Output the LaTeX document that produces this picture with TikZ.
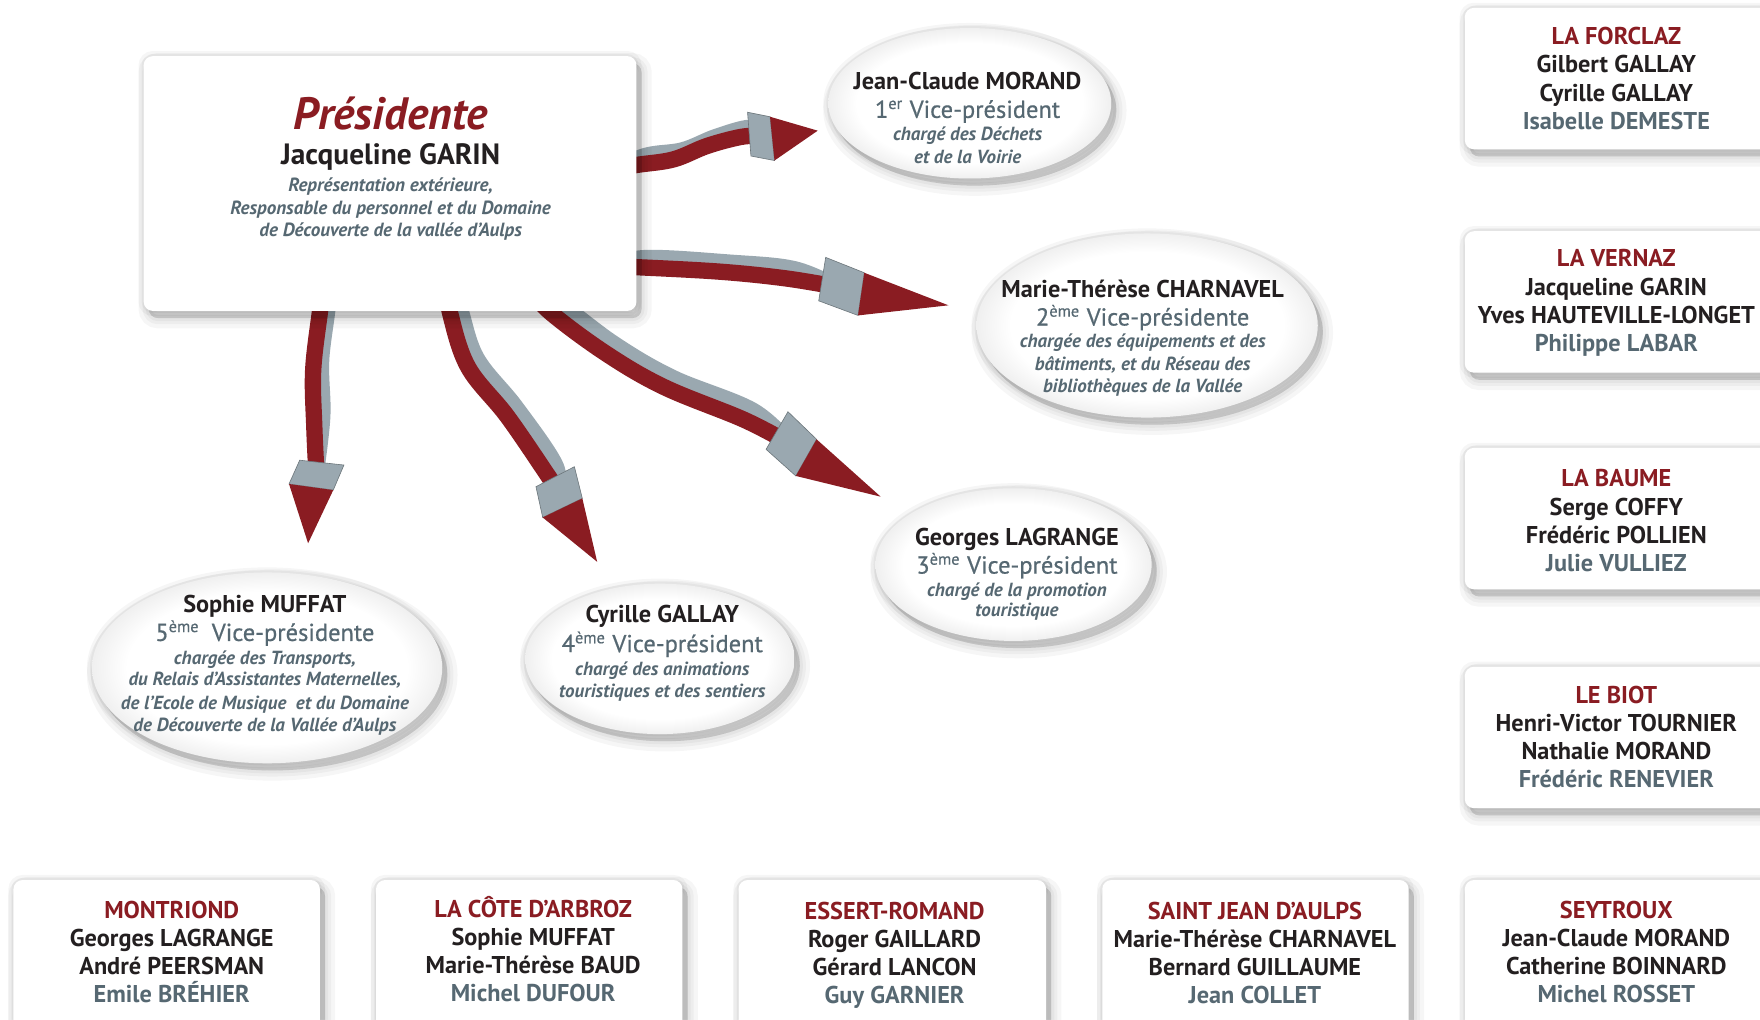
\documentclass[tikz,border=0pt]{standalone}
\usepackage{fontspec}
\setmainfont{PT Sans}
\newfontfamily\ptsemi[FakeBold=0.6]{PT Sans}
\usetikzlibrary{shapes.geometric,shadows}
\definecolor{redC}{HTML}{8A1C22}
\definecolor{ribgrey}{HTML}{9AA8B0}
\definecolor{nameC}{HTML}{231F20}
\definecolor{greyC}{HTML}{566872}
\pgfdeclareradialshading{ovalshade}{\pgfpoint{0bp}{0bp}}{color(0bp)=(white); color(20bp)=(white); color(25bp)=(black!6); color(50bp)=(black!6)}
\tikzset{
  softshadow/.style={general shadow={fill=black, draw=black, line width=#1, opacity=0.035, shadow xshift=2.5pt, shadow yshift=-3.5pt}},
  halo/.style={general shadow={draw=black, fill=none, line width=#1, opacity=0.035}},
  card/.style={fill=white, draw=none, rounded corners=4.5pt, inner sep=0pt,
    softshadow=0.1pt, softshadow=3pt, softshadow=6pt, softshadow=10pt, halo=2pt, halo=5pt},
  oval/.style={ellipse, shading=ovalshade, draw=none, inner sep=0pt,
    softshadow=0.1pt, softshadow=3pt, softshadow=6pt, softshadow=10pt, halo=2pt, halo=5pt},
  nm/.style={font=\bfseries\fontsize{11.9}{13}\selectfont, text=nameC, anchor=base, inner sep=0pt},
  ttl/.style={nm, text=redC},
  sub/.style={nm, text=greyC},
  vp/.style={font=\ptsemi\fontsize{12}{14}\selectfont, text=greyC, anchor=base, inner sep=0pt},
  dsc/.style={font=\bfseries\itshape\fontsize{9.3}{11}\selectfont, text=greyC, anchor=base, inner sep=0pt},
  ribR/.style={draw=redC, line width=8pt},
  ribG/.style={draw=ribgrey, line width=7pt, shift={(8,-9)}},
  collar/.style={fill=ribgrey, draw=ribgrey!70!black, line width=0.3pt},
  head/.style={fill=redC, draw=none}
}
\begin{document}
\begin{tikzpicture}[x=0.55pt, y=-0.55pt]
\useasboundingbox (0,0) rectangle (1568,908);
\fill[white] (0,0) rectangle (1568,908);
\clip (0,0) rectangle (1568,908);

% ---------- arrows (ribbons) ----------
% arrow 1 -> Jean-Claude MORAND
\coordinate (a1s) at (540,152); \coordinate (a1e) at (678,121);
\draw[ribG] plot[smooth, tension=0.6] coordinates {(a1s) (567,147) (600,142) (630,130) (660,122) (a1e)};
\draw[ribR] plot[smooth, tension=0.6] coordinates {(a1s) (567,147) (600,142) (630,130) (660,122) (a1e)};
\filldraw[collar] (666,100) -- (686,104) -- (690,143) -- (669,139) -- cycle;
\fill[head] (686,104) -- (728.5,116.4) -- (690,143) -- cycle;

% arrow 2 -> Marie-Therese CHARNAVEL
\coordinate (a2s) at (540,237); \coordinate (a2e) at (748,256);
\draw[ribG] plot[smooth, tension=0.6] coordinates {(a2s) (567,238) (641,242) (700,248) (a2e)};
\draw[ribR] plot[smooth, tension=0.6] coordinates {(a2s) (567,238) (641,242) (700,248) (a2e)};
\filldraw[collar] (735.6,229.3) -- (770,243) -- (764.4,281) -- (729.4,268) -- cycle;
\fill[head] (770,243) -- (845,272) -- (764.4,281) -- cycle;

% arrow 3 -> Georges LAGRANGE
\coordinate (a3s) at (470,255); \coordinate (a3e) at (705,396);
\draw[ribG] plot[smooth, tension=0.6] coordinates {(a3s) (490,278) (540,315) (592,345) (663,374) (a3e)};
\draw[ribR] plot[smooth, tension=0.6] coordinates {(a3s) (490,278) (540,315) (592,345) (663,374) (a3e)};
\filldraw[collar] (702,366.8) -- (727.5,391.4) -- (709,424) -- (682.5,400.3) -- cycle;
\fill[head] (727.5,391.4) -- (784.6,442.5) -- (709,424) -- cycle;

% arrow 4 -> Cyrille GALLAY
\coordinate (a4s) at (398,255); \coordinate (a4e) at (498,439);
\draw[ribG] plot[smooth, tension=0.6] coordinates {(a4s) (401,279) (417,327) (452,371) (487,422) (a4e)};
\draw[ribR] plot[smooth, tension=0.6] coordinates {(a4s) (401,279) (417,327) (452,371) (487,422) (a4e)};
\filldraw[collar] (477.5,433.6) -- (511.7,415.8) -- (518.8,444) -- (483.5,461) -- cycle;
\fill[head] (483.5,461) -- (532,500.5) -- (518.8,444) -- cycle;

% arrow 5 -> Sophie MUFFAT
\coordinate (a5s) at (288,255); \coordinate (a5e) at (282,423);
\draw[ribG] plot[smooth, tension=0.6] coordinates {(a5s) (285,278) (279,330) (280,380) (a5e)};
\draw[ribR] plot[smooth, tension=0.6] coordinates {(a5s) (285,278) (279,330) (280,380) (a5e)};
\filldraw[collar] (267,410) -- (306.4,414.3) -- (296.9,436.6) -- (257.5,431.2) -- cycle;
\fill[head] (257.5,431.2) -- (274.5,484) -- (296.9,436.6) -- cycle;

% ---------- Presidente box ----------
\node[card, minimum width=241.45pt, minimum height=124.85pt] (pres) at (347.5,163.5) {};
\node[font=\bfseries\itshape\fontsize{22.2}{24}\selectfont, text=redC, anchor=base, inner sep=0pt] (presT) at (348,115) {Présidente};
\node[nm, font=\bfseries\fontsize{14.4}{16}\selectfont] (presN) at (348,146.5) {Jacqueline GARIN};
\node[dsc, font=\bfseries\itshape\fontsize{9.35}{11}\selectfont] (presD1) at (348,171) {Représentation extérieure,};
\node[dsc, font=\bfseries\itshape\fontsize{9.35}{11}\selectfont] (presD2) at (348,191) {Responsable du personnel et du Domaine};
\node[dsc, font=\bfseries\itshape\fontsize{9.35}{11}\selectfont] (presD3) at (348,211) {de Découverte de la vallée d’Aulps};

% ---------- ellipses ----------
\node[oval, minimum width=138.6pt, minimum height=73.7pt] (e1) at (864,92) {};
\node[nm] (e1a) at (862,80) {Jean-Claude MORAND};
\node[vp] (e1b) at (862,105) {1\textsuperscript{er} Vice-président};
\node[dsc] (e1c) at (862,125) {chargé des Déchets};
\node[dsc] (e1d) at (862,146) {et de la Voirie};

\node[oval, minimum width=167.2pt, minimum height=90.2pt] (e2) at (1022,290) {};
\node[nm] (e2a) at (1018,265) {Marie-Thérèse CHARNAVEL};
\node[vp] (e2b) at (1018,290) {2\textsuperscript{ème} Vice-présidente};
\node[dsc] (e2c) at (1018,310) {chargée des équipements et des};
\node[dsc] (e2d) at (1018,330) {bâtiments, et du Réseau des};
\node[dsc] (e2e) at (1018,350) {bibliothèques de la Vallée};

\node[oval, minimum width=135.3pt, minimum height=74.8pt] (e3) at (903,503) {};
\node[nm] (e3a) at (906,486) {Georges LAGRANGE};
\node[vp] (e3b) at (906,511) {3\textsuperscript{ème} Vice-président};
\node[dsc] (e3c) at (906,531) {chargé de la promotion};
\node[dsc] (e3d) at (906,549) {touristique};

\node[oval, minimum width=132pt, minimum height=73.7pt] (e4) at (588,587) {};
\node[nm] (e4a) at (590,555) {Cyrille GALLAY};
\node[vp] (e4b) at (590,581) {4\textsuperscript{ème} Vice-président};
\node[dsc] (e4c) at (590,602) {chargé des animations};
\node[dsc] (e4d) at (590,621) {touristiques et des sentiers};

\node[oval, minimum width=171.6pt, minimum height=93.5pt] (e5) at (238,595) {};
\node[nm] (e5a) at (236,546) {Sophie MUFFAT};
\node[vp] (e5b) at (236,571) {5\textsuperscript{ème}\hspace{0.5em}Vice-présidente};
\node[dsc] (e5c) at (236,592) {chargée des Transports,};
\node[dsc] (e5d) at (236,611) {du Relais d’Assistantes Maternelles,};
\node[dsc] (e5e) at (236,632) {de l’Ecole de Musique\hspace{0.5em}et du Domaine};
\node[dsc] (e5f) at (236,652) {de Découverte de la Vallée d’Aulps};

% ---------- right column ----------
\node[card, minimum width=162.25pt, minimum height=69.3pt] (forclaz) at (1452.5,70) {};
\node[ttl] (forclaz1) at (1440,40) {LA FORCLAZ};
\node[nm] (forclaz2) at (1440,65) {Gilbert GALLAY};
\node[nm] (forclaz3) at (1440,90) {Cyrille GALLAY};
\node[sub] (forclaz4) at (1440,115) {Isabelle DEMESTE};

\node[card, minimum width=162.25pt, minimum height=69.3pt] (vernaz) at (1452.5,269) {};
\node[ttl] (vernaz1) at (1440,237) {LA VERNAZ};
\node[nm] (vernaz2) at (1440,263) {Jacqueline GARIN};
\node[nm] (vernaz3) at (1440,288) {Yves HAUTEVILLE-LONGET};
\node[sub] (vernaz4) at (1440,313) {Philippe LABAR};

\node[card, minimum width=162.25pt, minimum height=69.3pt] (baume) at (1452.5,462) {};
\node[ttl] (baume1) at (1440,433) {LA BAUME};
\node[nm] (baume2) at (1440,459) {Serge COFFY};
\node[nm] (baume3) at (1440,484) {Frédéric POLLIEN};
\node[sub] (baume4) at (1440,509) {Julie VULLIEZ};

\node[card, minimum width=162.25pt, minimum height=69.3pt] (biot) at (1452.5,657) {};
\node[ttl] (biot1) at (1440,627) {LE BIOT};
\node[nm] (biot2) at (1440,652) {Henri-Victor TOURNIER};
\node[nm] (biot3) at (1440,677) {Nathalie MORAND};
\node[sub] (biot4) at (1440,702) {Frédéric RENEVIER};

% ---------- bottom row ----------
\node[card, minimum width=150.15pt, minimum height=80.3pt] (montriond) at (148.5,857) {};
\node[ttl] (montriond1) at (153,818) {MONTRIOND};
\node[nm] (montriond2) at (153,843) {Georges LAGRANGE};
\node[nm] (montriond3) at (153,868) {André PEERSMAN};
\node[sub] (montriond4) at (153,893) {Emile BRÉHIER};

\node[card, minimum width=150.15pt, minimum height=80.3pt] (cote) at (471.5,857) {};
\node[ttl] (cote1) at (475,817) {LA CÔTE D’ARBROZ};
\node[nm] (cote2) at (475,842) {Sophie MUFFAT};
\node[nm] (cote3) at (475,867) {Marie-Thérèse BAUD};
\node[sub] (cote4) at (475,892) {Michel DUFOUR};

\node[card, minimum width=150.7pt, minimum height=80.3pt] (essert) at (795,857) {};
\node[ttl] (essert1) at (797,819) {ESSERT-ROMAND};
\node[nm] (essert2) at (797,844) {Roger GAILLARD};
\node[nm] (essert3) at (797,869) {Gérard LANCON};
\node[sub] (essert4) at (797,894) {Guy GARNIER};

\node[card, minimum width=150.15pt, minimum height=80.3pt] (stjean) at (1118.5,857) {};
\node[ttl] (stjean1) at (1118,819) {SAINT JEAN D’AULPS};
\node[nm] (stjean2) at (1118,844) {Marie-Thérèse CHARNAVEL};
\node[nm] (stjean3) at (1118,869) {Bernard GUILLAUME};
\node[sub] (stjean4) at (1118,894) {Jean COLLET};

\node[card, minimum width=162.25pt, minimum height=80.3pt] (seytroux) at (1452.5,857) {};
\node[ttl] (seytroux1) at (1440,818) {SEYTROUX};
\node[nm] (seytroux2) at (1440,843) {Jean-Claude MORAND};
\node[nm] (seytroux3) at (1440,868) {Catherine BOINNARD};
\node[sub] (seytroux4) at (1440,893) {Michel ROSSET};
\end{tikzpicture}
\end{document}
